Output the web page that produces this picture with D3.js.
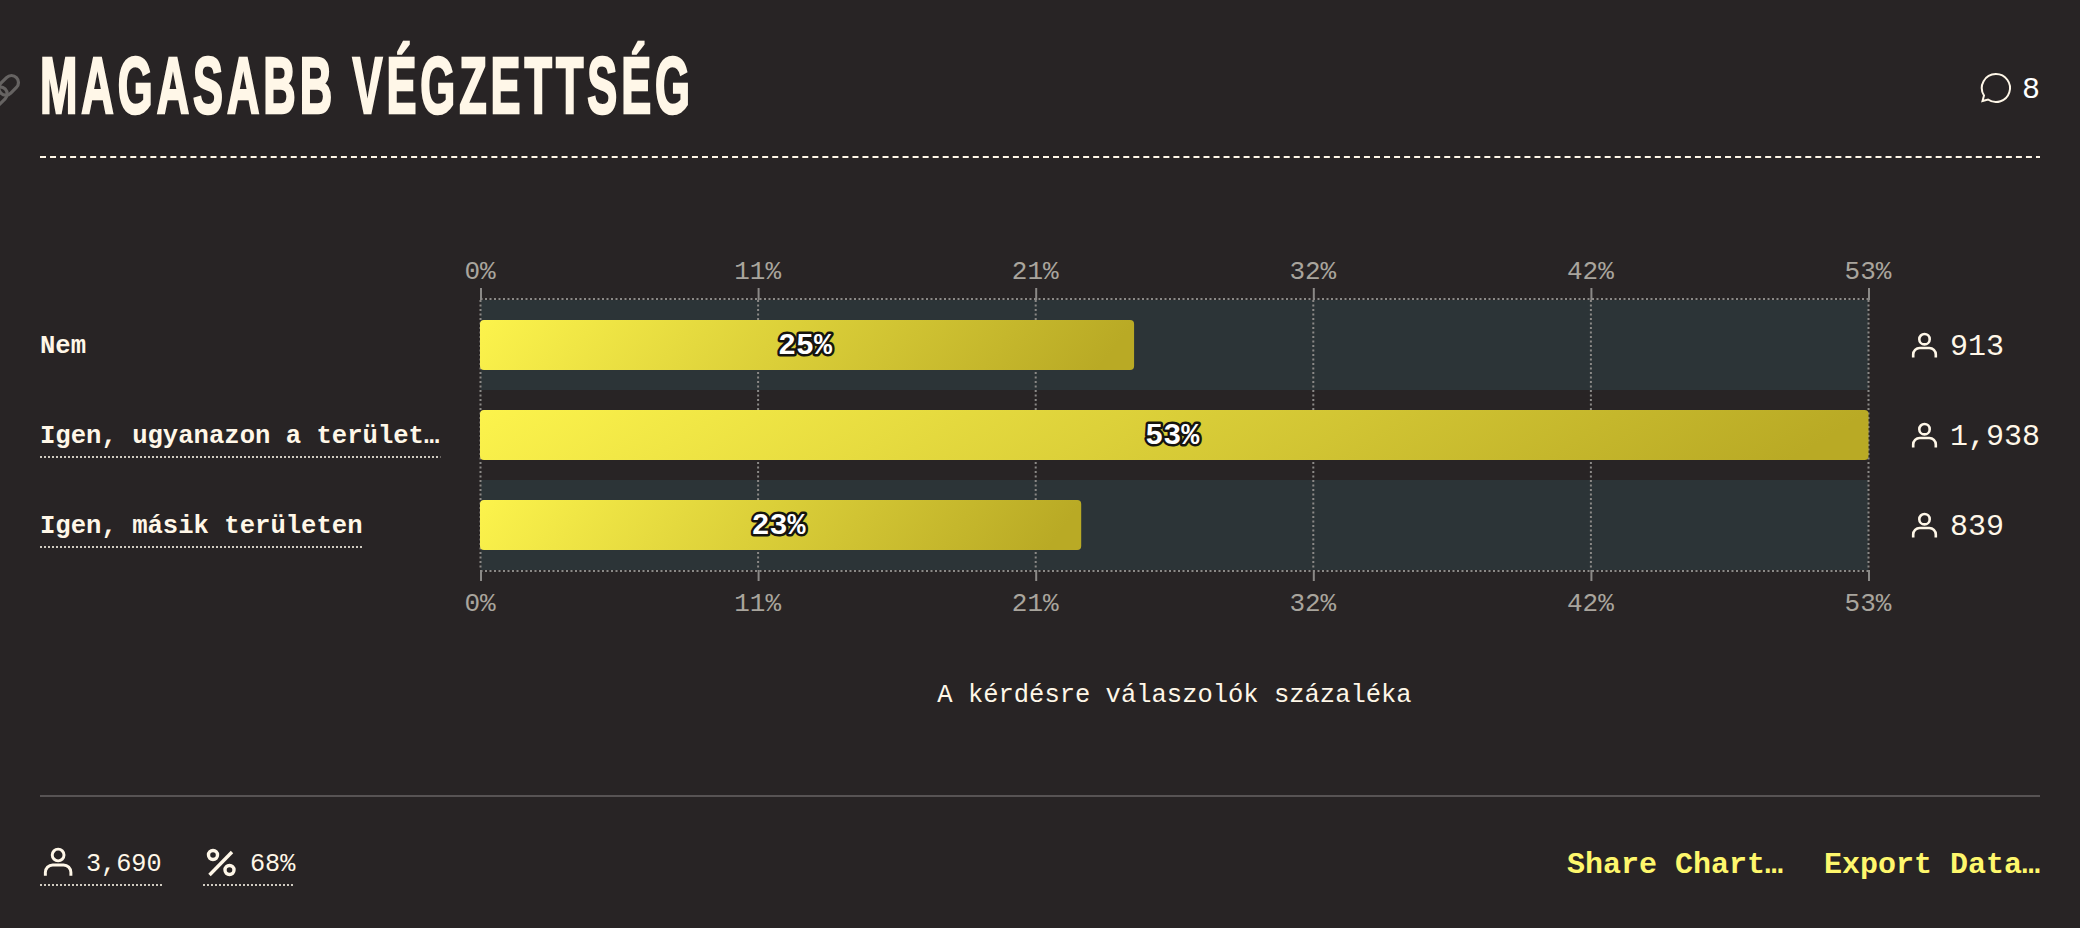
<!DOCTYPE html>
<html lang="hu">

<head>
    <meta charset="UTF-8">
    <script src="https://d3js.org/d3.v7.min.js" charset="utf-8"></script>
    <title>Magasabb végzettség</title>
    <style>
        html, body {
            margin: 0;
            padding: 0;
            background: #282425;
            overflow: hidden;
        }

        text {
            font-family: "Liberation Mono", monospace;
        }
    </style>
</head>

<body>
<div id="chart"></div>

<script>
    const svgWidth = 2080;
    const svgHeight = 928;

    const categories = ["Nem", "Igen, ugyanazon a terület…", "Igen, másik területen"];
    const shares = [24.74, 52.52, 22.74];
    const counts = ["913", "1,938", "839"];
    const tickValues = [0, 10.5, 21, 31.5, 42, 52.5];
    const underlined = [false, true, true];

    const titleText = "MAGASABB VÉGZETTSÉG";
    const captionText = "A kérdésre válaszolók százaléka";
    const commentCount = "8";
    const totalRespondents = "3,690";
    const responseRate = "68%";
    const footerLinks = ["Share Chart…", "Export Data…"];

    const cream = "#fff7e8";
    const gridGray = "#8b8987";

    const svg = d3.select("#chart").append("svg")
        .attr("width", svgWidth)
        .attr("height", svgHeight)
        .style("display", "block");

    const defs = svg.append("defs");

    const x = d3.scaleLinear().domain([0, 52.5]).range([480.5, 1868.5]);
    const y = d3.scaleBand().domain(categories).range([300, 570]);
    const barHeight = 50;
    const barY = d => y(d) + (y.bandwidth() - barHeight) / 2;

    // person icon, used in the rows and the footer
    const person = (parent, px, py, scale) => {
        const g = parent.append("g")
            .attr("transform", `translate(${px},${py}) scale(${scale})`)
            .attr("fill", "none")
            .attr("stroke", cream)
            .attr("stroke-width", 2.6);
        g.append("circle").attr("cx", 12.5).attr("cy", 6.2).attr("r", 5.2);
        g.append("path").attr("d", "M1.2,24.5 v-3 a6.5,6.5 0 0 1 6.5,-6.5 h9.6 a6.5,6.5 0 0 1 6.5,6.5 v3");
    };

    const dottedUnderline = (x1, x2, yPos) => {
        svg.append("line")
            .attr("x1", x1).attr("x2", x2)
            .attr("y1", yPos).attr("y2", yPos)
            .attr("stroke", "#cfcac0")
            .attr("stroke-width", 2)
            .attr("stroke-dasharray", "2 2");
    };

    // header
    const link = svg.append("g")
        .attr("transform", "translate(3,91) rotate(-45)")
        .attr("fill", "none")
        .attr("stroke", "#666362")
        .attr("stroke-width", 3.2);
    link.append("rect").attr("x", -19).attr("y", -7).attr("width", 22).attr("height", 14).attr("rx", 7);
    link.append("rect").attr("x", -3).attr("y", -7).attr("width", 22).attr("height", 14).attr("rx", 7);

    svg.append("text")
        .attr("x", 40)
        .attr("y", 113)
        .attr("textLength", 654)
        .attr("lengthAdjust", "spacingAndGlyphs")
        .style("font-family", "'Liberation Sans Narrow', 'Liberation Sans', sans-serif")
        .style("font-weight", 700)
        .style("font-size", "80px")
        .style("letter-spacing", "7px")
        .attr("fill", cream)
        .attr("stroke", cream)
        .attr("stroke-width", 2.6)
        .text(titleText);

    svg.append("path")
        .attr("d", "M1996,74 a14,14 0 1 1 -8,25.5 l-5.5,1.5 l1.5,-5.5 a14,14 0 0 1 12,-21.5 z")
        .attr("fill", "none")
        .attr("stroke", cream)
        .attr("stroke-width", 2);

    svg.append("text")
        .attr("x", 2040)
        .attr("y", 98)
        .attr("text-anchor", "end")
        .style("font-size", "30px")
        .attr("fill", "#ffffff")
        .text(commentCount);

    svg.append("line")
        .attr("x1", 40).attr("x2", 2040)
        .attr("y1", 157).attr("y2", 157)
        .attr("stroke", cream)
        .attr("stroke-width", 2)
        .attr("stroke-dasharray", "6 4.03");

    // alternating row stripes
    svg.selectAll(".stripe")
        .data(categories.filter((d, i) => i % 2 === 0))
        .enter()
        .append("rect")
        .attr("class", "stripe")
        .attr("x", x(0))
        .attr("y", d => y(d))
        .attr("width", x(52.5) - x(0))
        .attr("height", y.bandwidth())
        .attr("fill", "#2c3437");

    // dotted frame and grid
    svg.selectAll(".grid")
        .data(tickValues)
        .enter()
        .append("line")
        .attr("class", "grid")
        .attr("x1", d => x(d)).attr("x2", d => x(d))
        .attr("y1", 300).attr("y2", 570)
        .attr("stroke", gridGray)
        .attr("stroke-width", 2)
        .attr("stroke-dasharray", "2 2.5");

    svg.selectAll(".frame")
        .data([299, 571])
        .enter()
        .append("line")
        .attr("class", "frame")
        .attr("x1", x(0)).attr("x2", x(52.5))
        .attr("y1", d => d).attr("y2", d => d)
        .attr("stroke", gridGray)
        .attr("stroke-width", 2)
        .attr("stroke-dasharray", "2 2.5");

    const styleAxis = g => {
        g.select(".domain").remove();
        g.selectAll(".tick line").attr("stroke", gridGray).attr("stroke-width", 2);
        g.selectAll(".tick text")
            .attr("fill", "#a9a59d")
            .attr("dx", -1)
            .style("font-family", "'Liberation Mono', monospace")
            .style("font-size", "26px");
    };

    svg.append("g")
        .attr("transform", "translate(0,300)")
        .call(d3.axisTop(x).tickValues(tickValues).tickSize(12).tickPadding(9).tickFormat(d => d3.format(".0f")(d) + "%"))
        .call(styleAxis);

    svg.append("g")
        .attr("transform", "translate(0,570)")
        .call(d3.axisBottom(x).tickValues(tickValues).tickSize(11).tickPadding(12).tickFormat(d => d3.format(".0f")(d) + "%"))
        .call(styleAxis);

    // bars
    categories.forEach((c, i) => {
        const grad = defs.append("linearGradient")
            .attr("id", "bar" + i)
            .attr("x1", 0).attr("y1", 0)
            .attr("x2", 1).attr("y2", 0.06);
        grad.append("stop").attr("offset", "0%").attr("stop-color", "#fcf34c");
        grad.append("stop").attr("offset", "100%").attr("stop-color", "#b9aa25");
    });

    svg.selectAll(".bar")
        .data(categories)
        .enter()
        .append("rect")
        .attr("class", "bar")
        .attr("x", x(0) - 0.5)
        .attr("y", barY)
        .attr("width", (d, i) => x(shares[i]) - x(0))
        .attr("height", barHeight)
        .attr("rx", 4)
        .attr("fill", (d, i) => `url(#bar${i})`);

    svg.selectAll(".bar-label")
        .data(categories)
        .enter()
        .append("text")
        .attr("class", "bar-label")
        .attr("x", (d, i) => (x(0) + x(shares[i])) / 2 - 2.5)
        .attr("y", d => barY(d) + barHeight / 2 + 9)
        .attr("text-anchor", "middle")
        .style("font-size", "30px")
        .style("font-weight", 700)
        .style("paint-order", "stroke")
        .attr("fill", "#ffffff")
        .attr("stroke", "#16140f")
        .attr("stroke-width", 5)
        .attr("stroke-linejoin", "round")
        .text((d, i) => d3.format(".0f")(shares[i]) + "%");

    // category labels
    svg.selectAll(".category")
        .data(categories)
        .enter()
        .append("text")
        .attr("class", "category")
        .attr("x", 40)
        .attr("y", d => y(d) + y.bandwidth() / 2 + 8)
        .style("font-size", "25.6px")
        .style("font-weight", 700)
        .attr("fill", cream)
        .text(d => d);

    categories.forEach((c, i) => {
        if (underlined[i]) {
            dottedUnderline(40, 40 + c.length * 15.4, y(c) + y.bandwidth() / 2 + 22);
        }
    });

    // respondent counts
    categories.forEach((c, i) => {
        const mid = y(c) + y.bandwidth() / 2;
        person(svg, 1912, mid - 12, 1);
        svg.append("text")
            .attr("x", 1950)
            .attr("y", mid + 10)
            .style("font-size", "30px")
            .attr("fill", cream)
            .text(counts[i]);
    });

    svg.append("text")
        .attr("x", x(26.25))
        .attr("y", 702)
        .attr("text-anchor", "middle")
        .style("font-size", "25.5px")
        .attr("fill", cream)
        .text(captionText);

    // footer
    svg.append("line")
        .attr("x1", 40).attr("x2", 2040)
        .attr("y1", 796).attr("y2", 796)
        .attr("stroke", "#575354")
        .attr("stroke-width", 2);

    person(svg, 44, 848, 1.13);
    svg.append("text")
        .attr("x", 86)
        .attr("y", 871)
        .style("font-size", "25.2px")
        .attr("fill", cream)
        .text(totalRespondents);
    dottedUnderline(40, 163, 885);

    const pct = svg.append("g")
        .attr("transform", "translate(207,849)")
        .attr("fill", "none")
        .attr("stroke", cream)
        .attr("stroke-width", 3.4);
    pct.append("circle").attr("cx", 6).attr("cy", 6).attr("r", 4.5);
    pct.append("circle").attr("cx", 22.5).attr("cy", 21).attr("r", 4.5);
    pct.append("line").attr("x1", 2.5).attr("y1", 26).attr("x2", 25).attr("y2", 3);

    svg.append("text")
        .attr("x", 250)
        .attr("y", 871)
        .style("font-size", "25.2px")
        .attr("fill", cream)
        .text(responseRate);
    dottedUnderline(203, 295, 885);

    svg.selectAll(".footer-link")
        .data(footerLinks)
        .enter()
        .append("text")
        .attr("class", "footer-link")
        .attr("x", (d, i) => i === 0 ? 1783 : 2040)
        .attr("y", 873)
        .attr("text-anchor", "end")
        .style("font-size", "30px")
        .style("font-weight", 700)
        .attr("fill", "#fef76c")
        .text(d => d);
</script>
</body>

</html>
